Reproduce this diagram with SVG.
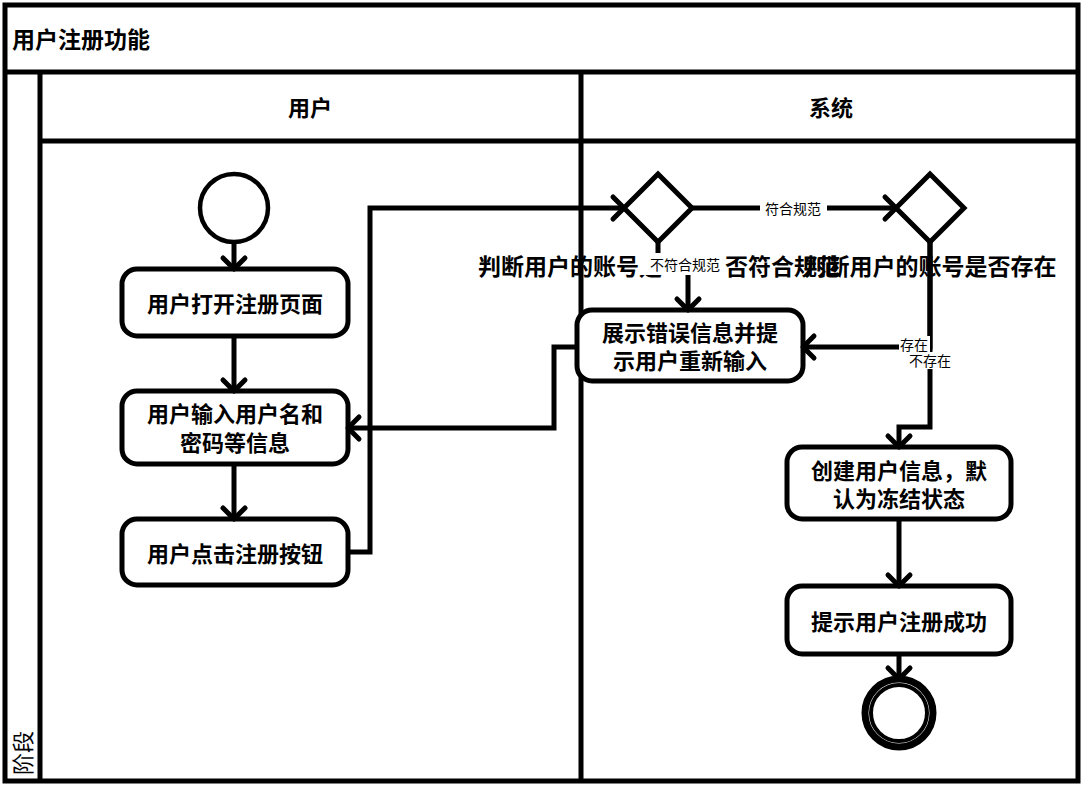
<svg xmlns="http://www.w3.org/2000/svg" width="1085" height="794" viewBox="0 0 1085 794">
<style>
.frame{fill:none;stroke:#000;stroke-width:5}
.ln{stroke:#000;stroke-width:5;fill:none}
.box{fill:#fff;stroke:#000;stroke-width:5}
.t{font-family:"Noto Sans CJK SC","Liberation Sans",sans-serif;font-weight:bold;font-size:22px;fill:#000;text-anchor:middle;dominant-baseline:central}
.big{font-family:"Noto Sans CJK SC","Liberation Sans",sans-serif;font-weight:bold;font-size:23px;fill:#000;dominant-baseline:central}
.lbl{font-family:"Noto Sans CJK SC","Liberation Sans",sans-serif;font-size:14px;fill:#000;text-anchor:middle;dominant-baseline:central}
.conn{fill:none;stroke:#000;stroke-width:5;marker-end:url(#arr)}
</style>
<defs>
<marker id="arr" markerUnits="userSpaceOnUse" viewBox="-14 -14 16 28" markerWidth="16" markerHeight="28" refX="0" refY="0" orient="auto" overflow="visible">
<path d="M-11,-11 L0,0 L-11,11" fill="none" stroke="#000" stroke-width="5" stroke-linecap="round" stroke-linejoin="round"/>
</marker>
</defs>
<rect width="1085" height="794" fill="#fff"/>
<g id="pool">
<rect class="frame" x="5" y="5" width="1073" height="776"/>
<line class="ln" x1="5" y1="72" x2="1078" y2="72"/>
<line class="ln" x1="40" y1="72" x2="40" y2="781"/>
<line class="ln" x1="40" y1="141" x2="1078" y2="141"/>
<line class="ln" x1="581" y1="72" x2="581" y2="781"/>
<text class="big" x="12" y="38">用户注册功能</text>
<text class="t" x="310" y="106">用户</text>
<text class="t" x="831" y="106">系统</text>
<text class="t" x="0" y="0" style="font-weight:normal" transform="translate(21,753) rotate(-90)">阶段</text>
</g>
<g id="start"><circle cx="234" cy="208" r="34" fill="#fff" stroke="#000" stroke-width="4.5"/></g>
<g id="n1"><rect class="box" x="122" y="269" width="226" height="67" rx="15"/><text class="t" x="235" y="302">用户打开注册页面</text></g>
<g id="n2"><rect class="box" x="122" y="391" width="226" height="73" rx="15"/><text class="t" x="235" y="412">用户输入用户名和</text><text class="t" x="235" y="441">密码等信息</text></g>
<g id="n3"><rect class="box" x="122" y="519" width="226" height="66" rx="15"/><text class="t" x="235" y="552">用户点击注册按钮</text></g>
<g id="d1"><polygon points="658,174 692,208 658,242 624,208" fill="#fff" stroke="#000" stroke-width="5"/><text class="big" y="265"><tspan x="478">判断用户的账号是</tspan><tspan x="725">否符合规范</tspan></text></g>
<g id="d2"><polygon points="930,174 964,208 930,242 896,208" fill="#fff" stroke="#000" stroke-width="5"/><text class="big" x="930" y="265" text-anchor="middle">判断用户的账号是否存在</text></g>
<g id="n4"><rect class="box" x="577" y="310" width="226" height="71" rx="15"/><text class="t" x="690" y="331">展示错误信息并提</text><text class="t" x="690" y="359">示用户重新输入</text></g>
<g id="n5"><rect class="box" x="787" y="447" width="224" height="72" rx="15"/><text class="t" x="899" y="469">创建用户信息，默</text><text class="t" x="899" y="497">认为冻结状态</text></g>
<g id="n6"><rect class="box" x="787" y="586" width="224" height="68" rx="15"/><text class="t" x="899" y="620">提示用户注册成功</text></g>
<g id="end"><circle cx="899" cy="713" r="34" fill="#fff" stroke="#000" stroke-width="7"/><circle cx="899" cy="713" r="28" fill="#fff" stroke="#000" stroke-width="4"/></g>
<g id="connectors">
<path class="conn" d="M234,243 L234,269"/>
<path class="conn" d="M234,336 L234,391"/>
<path class="conn" d="M234,464 L234,519"/>
<path class="conn" d="M348,552 L370,552 L370,208 L624,208"/>
<path class="conn" d="M692,208 L896,208"/>
<path class="conn" d="M658,242 L658,264 L688,264 L688,310"/>
<path class="conn" d="M930,242 L930,347 L803,347"/>
<path class="conn" d="M930,242 L930,427 L899,427 L899,447"/>
<path class="conn" d="M577,347 L554,347 L554,428 L348,428"/>
<path class="conn" d="M899,519 L899,586"/>
<path class="conn" d="M899,654 L899,679"/>
<rect x="760" y="199" width="67" height="18" fill="#fff"/>
<text class="lbl" x="793" y="208">符合规范</text>
<rect x="640" y="253" width="84" height="22" fill="#fff"/>
<text class="lbl" x="685" y="264">不符合规范</text>
<rect x="899" y="336" width="31" height="16" fill="#fff"/>
<text class="lbl" x="914" y="344">存在</text>
<rect x="906" y="352" width="48" height="17" fill="#fff"/>
<text class="lbl" x="930" y="360">不存在</text>
</g>
</svg>
